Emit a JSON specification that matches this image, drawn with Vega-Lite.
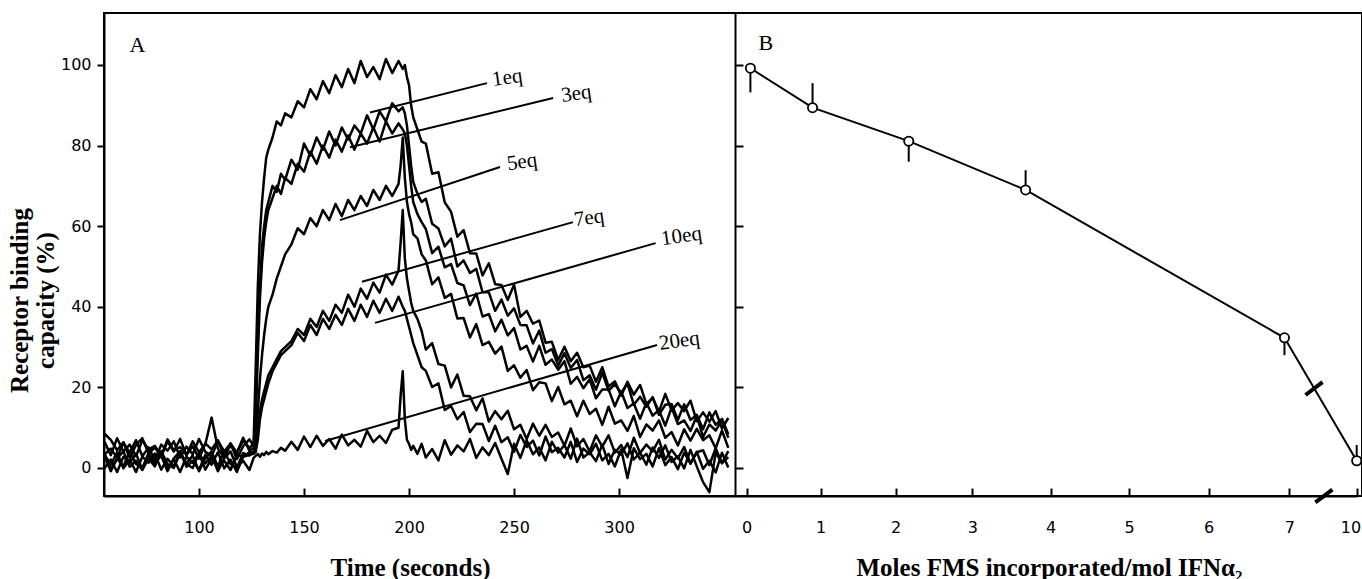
{
"$schema":"https://vega.github.io/schema/vega-lite/v6.json",
"width":1258,"height":483,
"autosize":"none",
"padding":{"left":104,"top":13,"right":0,"bottom":83},
"background":"white",
"config":{
 "view":{"stroke":"black","strokeWidth":2},
 "axis":{"grid":false,"domainColor":"black","domainWidth":2,"tickColor":"black","tickWidth":2,"labelColor":"black","titleColor":"black","labelFont":"DejaVu Sans","labelFontSize":16,"titleFont":"Liberation Serif","titleFontSize":25,"titleFontWeight":"bold"}
},
"datasets":{
"cur":[
{"s":"n","t":55,"v":6.5},{"s":"n","t":58,"v":3.2},{"s":"n","t":61,"v":7.4},{"s":"n","t":64,"v":4.1},{"s":"n","t":67,"v":5.8},{"s":"n","t":70,"v":2.9},{"s":"n","t":73,"v":6.9},{"s":"n","t":76,"v":4.6},{"s":"n","t":79,"v":5.5},{"s":"n","t":82,"v":3.0},{"s":"n","t":85,"v":7.1},{"s":"n","t":88,"v":4.4},{"s":"n","t":91,"v":5.2},{"s":"n","t":94,"v":3.3},{"s":"n","t":97,"v":6.6},{"s":"n","t":100,"v":3.9},{"s":"n","t":103,"v":5.9},{"s":"n","t":106,"v":12.5},{"s":"n","t":109,"v":4.8},{"s":"n","t":112,"v":2.6},{"s":"n","t":115,"v":6.1},{"s":"n","t":118,"v":3.8},{"s":"n","t":121,"v":6.8},{"s":"n","t":124,"v":5.0},
{"s":"n","t":126,"v":6},{"s":"n","t":127,"v":25},{"s":"n","t":128,"v":45},{"s":"n","t":129,"v":58},{"s":"n","t":130,"v":66},{"s":"n","t":131,"v":72},{"s":"n","t":132,"v":77},{"s":"n","t":133,"v":79},{"s":"n","t":135,"v":82},{"s":"n","t":137,"v":86},{"s":"n","t":139,"v":85},{"s":"n","t":141,"v":88},
{"s":"n","t":144,"v":87},{"s":"n","t":147,"v":91},{"s":"n","t":150,"v":89.5},{"s":"n","t":153,"v":94},{"s":"n","t":156,"v":91.5},{"s":"n","t":159,"v":96},{"s":"n","t":162,"v":93},{"s":"n","t":165,"v":97.5},{"s":"n","t":168,"v":94.5},{"s":"n","t":171,"v":99},{"s":"n","t":174,"v":95.5},{"s":"n","t":177,"v":101},{"s":"n","t":180,"v":97},{"s":"n","t":183,"v":99.5},{"s":"n","t":186,"v":96.5},{"s":"n","t":189,"v":101.5},{"s":"n","t":192,"v":98},{"s":"n","t":195,"v":101},
{"s":"n","t":197,"v":99},{"s":"n","t":198,"v":100},{"s":"n","t":199,"v":97},{"s":"n","t":200,"v":95},{"s":"n","t":201,"v":90},{"s":"n","t":202,"v":87},{"s":"n","t":204,"v":84},{"s":"n","t":206,"v":81},
{"s":"n","t":208,"v":80.5},{"s":"n","t":211,"v":73.0},{"s":"n","t":214,"v":73.4},{"s":"n","t":217,"v":65.9},{"s":"n","t":220,"v":63.6},{"s":"n","t":223,"v":57.4},{"s":"n","t":226,"v":59.0},{"s":"n","t":229,"v":53.3},{"s":"n","t":232,"v":53.2},{"s":"n","t":235,"v":47.8},{"s":"n","t":238,"v":50.8},{"s":"n","t":241,"v":45.6},{"s":"n","t":244,"v":45.4},{"s":"n","t":247,"v":41.7},{"s":"n","t":250,"v":45.5},{"s":"n","t":253,"v":37.5},{"s":"n","t":256,"v":39.0},{"s":"n","t":259,"v":35.8},{"s":"n","t":262,"v":36.6},{"s":"n","t":265,"v":31.1},{"s":"n","t":268,"v":31.3},{"s":"n","t":271,"v":26.8},{"s":"n","t":274,"v":30.1},{"s":"n","t":277,"v":26.5},{"s":"n","t":280,"v":28.6},{"s":"n","t":283,"v":25.0},{"s":"n","t":286,"v":25.4},{"s":"n","t":289,"v":21.4},{"s":"n","t":292,"v":25.0},{"s":"n","t":295,"v":20.2},{"s":"n","t":298,"v":21.5},{"s":"n","t":301,"v":17.9},{"s":"n","t":304,"v":21.4},{"s":"n","t":307,"v":18.2},{"s":"n","t":310,"v":20.6},{"s":"n","t":313,"v":15.9},{"s":"n","t":316,"v":17.4},{"s":"n","t":319,"v":14.0},{"s":"n","t":322,"v":18.4},{"s":"n","t":325,"v":14.3},{"s":"n","t":328,"v":16.1},{"s":"n","t":331,"v":14.1},{"s":"n","t":334,"v":16.7},{"s":"n","t":337,"v":11.6},{"s":"n","t":340,"v":13.8},{"s":"n","t":343,"v":11.5},{"s":"n","t":346,"v":14.1},{"s":"n","t":349,"v":9.8},{"s":"n","t":352,"v":12.4},

{"s":"e1","t":55,"v":8.5},{"s":"e1","t":58,"v":7.0},{"s":"e1","t":61,"v":4.4},{"s":"e1","t":64,"v":6.4},{"s":"e1","t":67,"v":2.5},{"s":"e1","t":70,"v":5.7},{"s":"e1","t":73,"v":7.4},{"s":"e1","t":76,"v":3.6},{"s":"e1","t":79,"v":5.1},{"s":"e1","t":82,"v":2.8},{"s":"e1","t":85,"v":6.6},{"s":"e1","t":88,"v":4.1},{"s":"e1","t":91,"v":7.2},{"s":"e1","t":94,"v":3.2},{"s":"e1","t":97,"v":5.4},{"s":"e1","t":100,"v":2.3},{"s":"e1","t":103,"v":6.1},{"s":"e1","t":106,"v":4.6},{"s":"e1","t":109,"v":6.9},{"s":"e1","t":112,"v":2.9},{"s":"e1","t":115,"v":5.6},{"s":"e1","t":118,"v":3.7},{"s":"e1","t":121,"v":7.5},{"s":"e1","t":124,"v":4.3},
{"s":"e1","t":126,"v":5},{"s":"e1","t":127,"v":15},{"s":"e1","t":128,"v":32},{"s":"e1","t":129,"v":45},{"s":"e1","t":130,"v":55},{"s":"e1","t":131,"v":60},{"s":"e1","t":132,"v":64},{"s":"e1","t":133,"v":66},{"s":"e1","t":135,"v":70},{"s":"e1","t":137,"v":68.5},{"s":"e1","t":139,"v":73},{"s":"e1","t":141,"v":71.5},
{"s":"e1","t":144,"v":76.5},{"s":"e1","t":147,"v":74},{"s":"e1","t":150,"v":80.5},{"s":"e1","t":153,"v":77.5},{"s":"e1","t":156,"v":82},{"s":"e1","t":159,"v":79},{"s":"e1","t":162,"v":83.5},{"s":"e1","t":165,"v":80},{"s":"e1","t":168,"v":84.5},{"s":"e1","t":171,"v":81.5},{"s":"e1","t":174,"v":85},{"s":"e1","t":177,"v":83},{"s":"e1","t":180,"v":87.5},{"s":"e1","t":183,"v":84},{"s":"e1","t":186,"v":88.5},{"s":"e1","t":189,"v":86},{"s":"e1","t":192,"v":90.5},{"s":"e1","t":195,"v":88.5},
{"s":"e1","t":197,"v":89.5},{"s":"e1","t":198,"v":88},{"s":"e1","t":199,"v":85},{"s":"e1","t":200,"v":80},{"s":"e1","t":201,"v":75},{"s":"e1","t":202,"v":71},{"s":"e1","t":204,"v":68},{"s":"e1","t":206,"v":66},
{"s":"e1","t":208,"v":66.8},{"s":"e1","t":211,"v":60.6},{"s":"e1","t":214,"v":59.4},{"s":"e1","t":217,"v":55.0},{"s":"e1","t":220,"v":56.9},{"s":"e1","t":223,"v":50.0},{"s":"e1","t":226,"v":51.5},{"s":"e1","t":229,"v":48.4},{"s":"e1","t":232,"v":49.4},{"s":"e1","t":235,"v":43.6},{"s":"e1","t":238,"v":43.6},{"s":"e1","t":241,"v":39.0},{"s":"e1","t":244,"v":41.8},{"s":"e1","t":247,"v":37.8},{"s":"e1","t":250,"v":39.6},{"s":"e1","t":253,"v":35.5},{"s":"e1","t":256,"v":35.4},{"s":"e1","t":259,"v":30.9},{"s":"e1","t":262,"v":34.1},{"s":"e1","t":265,"v":28.6},{"s":"e1","t":268,"v":29.5},{"s":"e1","t":271,"v":25.4},{"s":"e1","t":274,"v":28.5},{"s":"e1","t":277,"v":24.8},{"s":"e1","t":280,"v":26.8},{"s":"e1","t":283,"v":21.8},{"s":"e1","t":286,"v":23.0},{"s":"e1","t":289,"v":19.4},{"s":"e1","t":292,"v":23.6},{"s":"e1","t":295,"v":19.2},{"s":"e1","t":298,"v":20.8},{"s":"e1","t":301,"v":18.6},{"s":"e1","t":304,"v":21.0},{"s":"e1","t":307,"v":15.7},{"s":"e1","t":310,"v":17.7},{"s":"e1","t":313,"v":15.2},{"s":"e1","t":316,"v":17.6},{"s":"e1","t":319,"v":13.2},{"s":"e1","t":322,"v":15.7},{"s":"e1","t":325,"v":15.9},{"s":"e1","t":328,"v":11.9},{"s":"e1","t":331,"v":15.8},{"s":"e1","t":334,"v":11.9},{"s":"e1","t":337,"v":13.2},{"s":"e1","t":340,"v":9.6},{"s":"e1","t":343,"v":13.8},{"s":"e1","t":346,"v":10.7},{"s":"e1","t":349,"v":12.2},{"s":"e1","t":352,"v":8.4},

{"s":"e3","t":55,"v":3.3},{"s":"e3","t":58,"v":4.8},{"s":"e3","t":61,"v":2.5},{"s":"e3","t":64,"v":6.3},{"s":"e3","t":67,"v":3.8},{"s":"e3","t":70,"v":6.9},{"s":"e3","t":73,"v":2.9},{"s":"e3","t":76,"v":5.1},{"s":"e3","t":79,"v":2.0},{"s":"e3","t":82,"v":5.8},{"s":"e3","t":85,"v":4.3},{"s":"e3","t":88,"v":6.6},{"s":"e3","t":91,"v":2.6},{"s":"e3","t":94,"v":5.3},{"s":"e3","t":97,"v":3.4},{"s":"e3","t":100,"v":7.2},{"s":"e3","t":103,"v":4.0},{"s":"e3","t":106,"v":3.0},{"s":"e3","t":109,"v":6.7},{"s":"e3","t":112,"v":4.1},{"s":"e3","t":115,"v":6.1},{"s":"e3","t":118,"v":2.2},{"s":"e3","t":121,"v":5.4},{"s":"e3","t":124,"v":7.1},
{"s":"e3","t":126,"v":5.5},{"s":"e3","t":127,"v":12},{"s":"e3","t":128,"v":28},{"s":"e3","t":129,"v":42},{"s":"e3","t":130,"v":51},{"s":"e3","t":131,"v":57},{"s":"e3","t":132,"v":61},{"s":"e3","t":133,"v":64},{"s":"e3","t":135,"v":67},{"s":"e3","t":137,"v":70},{"s":"e3","t":139,"v":68},{"s":"e3","t":141,"v":72},
{"s":"e3","t":144,"v":70.5},{"s":"e3","t":147,"v":75.5},{"s":"e3","t":150,"v":73.5},{"s":"e3","t":153,"v":78.5},{"s":"e3","t":156,"v":75.5},{"s":"e3","t":159,"v":80},{"s":"e3","t":162,"v":77},{"s":"e3","t":165,"v":81.5},{"s":"e3","t":168,"v":78.5},{"s":"e3","t":171,"v":82.5},{"s":"e3","t":174,"v":79},{"s":"e3","t":177,"v":83},{"s":"e3","t":180,"v":80.5},{"s":"e3","t":183,"v":84.5},{"s":"e3","t":186,"v":81},{"s":"e3","t":189,"v":86},{"s":"e3","t":192,"v":83},{"s":"e3","t":195,"v":85.5},
{"s":"e3","t":197,"v":84},{"s":"e3","t":198,"v":83},{"s":"e3","t":199,"v":80},{"s":"e3","t":200,"v":75},{"s":"e3","t":201,"v":70},{"s":"e3","t":202,"v":66},{"s":"e3","t":204,"v":63},{"s":"e3","t":206,"v":61},
{"s":"e3","t":208,"v":59.3},{"s":"e3","t":211,"v":53.3},{"s":"e3","t":214,"v":54.9},{"s":"e3","t":217,"v":49.8},{"s":"e3","t":220,"v":50.6},{"s":"e3","t":223,"v":45.9},{"s":"e3","t":226,"v":45.3},{"s":"e3","t":229,"v":40.4},{"s":"e3","t":232,"v":43.3},{"s":"e3","t":235,"v":37.6},{"s":"e3","t":238,"v":38.2},{"s":"e3","t":241,"v":33.9},{"s":"e3","t":244,"v":36.8},{"s":"e3","t":247,"v":32.9},{"s":"e3","t":250,"v":34.7},{"s":"e3","t":253,"v":29.4},{"s":"e3","t":256,"v":30.3},{"s":"e3","t":259,"v":26.4},{"s":"e3","t":262,"v":30.3},{"s":"e3","t":265,"v":25.6},{"s":"e3","t":268,"v":26.9},{"s":"e3","t":271,"v":24.4},{"s":"e3","t":274,"v":26.5},{"s":"e3","t":277,"v":20.9},{"s":"e3","t":280,"v":22.6},{"s":"e3","t":283,"v":19.8},{"s":"e3","t":286,"v":22.0},{"s":"e3","t":289,"v":17.3},{"s":"e3","t":292,"v":19.5},{"s":"e3","t":295,"v":19.5},{"s":"e3","t":298,"v":15.3},{"s":"e3","t":301,"v":19.0},{"s":"e3","t":304,"v":14.9},{"s":"e3","t":307,"v":16.0},{"s":"e3","t":310,"v":12.2},{"s":"e3","t":313,"v":16.2},{"s":"e3","t":316,"v":13.0},{"s":"e3","t":319,"v":14.4},{"s":"e3","t":322,"v":10.5},{"s":"e3","t":325,"v":15.0},{"s":"e3","t":328,"v":10.9},{"s":"e3","t":331,"v":11.8},{"s":"e3","t":334,"v":9.2},{"s":"e3","t":337,"v":12.9},{"s":"e3","t":340,"v":7.7},{"s":"e3","t":343,"v":10.8},{"s":"e3","t":346,"v":9.3},{"s":"e3","t":349,"v":11.8},{"s":"e3","t":352,"v":7.5},

{"s":"e5","t":55,"v":-0.1},{"s":"e5","t":58,"v":2.1},{"s":"e5","t":61,"v":-1.0},{"s":"e5","t":64,"v":2.8},{"s":"e5","t":67,"v":1.3},{"s":"e5","t":70,"v":3.6},{"s":"e5","t":73,"v":-0.4},{"s":"e5","t":76,"v":2.3},{"s":"e5","t":79,"v":0.4},{"s":"e5","t":82,"v":4.2},{"s":"e5","t":85,"v":1.0},{"s":"e5","t":88,"v":0.0},{"s":"e5","t":91,"v":3.7},{"s":"e5","t":94,"v":1.1},{"s":"e5","t":97,"v":3.1},{"s":"e5","t":100,"v":-0.8},{"s":"e5","t":103,"v":2.4},{"s":"e5","t":106,"v":4.1},{"s":"e5","t":109,"v":0.3},{"s":"e5","t":112,"v":1.8},{"s":"e5","t":115,"v":-0.5},{"s":"e5","t":118,"v":3.3},{"s":"e5","t":121,"v":2.8},{"s":"e5","t":124,"v":3.9},
{"s":"e5","t":126,"v":4},{"s":"e5","t":127,"v":6},{"s":"e5","t":128,"v":14},{"s":"e5","t":129,"v":22},{"s":"e5","t":130,"v":28},{"s":"e5","t":131,"v":33},{"s":"e5","t":132,"v":37},{"s":"e5","t":133,"v":40},{"s":"e5","t":135,"v":43},{"s":"e5","t":137,"v":47},{"s":"e5","t":139,"v":50},{"s":"e5","t":141,"v":53},
{"s":"e5","t":144,"v":55.5},{"s":"e5","t":147,"v":59.5},{"s":"e5","t":150,"v":58},{"s":"e5","t":153,"v":62},{"s":"e5","t":156,"v":60},{"s":"e5","t":159,"v":64},{"s":"e5","t":162,"v":61.5},{"s":"e5","t":165,"v":65.5},{"s":"e5","t":168,"v":62.5},{"s":"e5","t":171,"v":66.5},{"s":"e5","t":174,"v":64},{"s":"e5","t":177,"v":67.5},{"s":"e5","t":180,"v":65},{"s":"e5","t":183,"v":69},{"s":"e5","t":186,"v":66.5},{"s":"e5","t":189,"v":70},{"s":"e5","t":192,"v":67.5},{"s":"e5","t":195,"v":70.5},
{"s":"e5","t":196,"v":75},{"s":"e5","t":197,"v":82},{"s":"e5","t":198,"v":72},{"s":"e5","t":199,"v":66},{"s":"e5","t":200,"v":63},{"s":"e5","t":201,"v":61},{"s":"e5","t":202,"v":58},{"s":"e5","t":204,"v":57},{"s":"e5","t":206,"v":53},
{"s":"e5","t":208,"v":51.5},{"s":"e5","t":211,"v":45.6},{"s":"e5","t":214,"v":47.3},{"s":"e5","t":217,"v":42.2},{"s":"e5","t":220,"v":43.2},{"s":"e5","t":223,"v":37.1},{"s":"e5","t":226,"v":37.2},{"s":"e5","t":229,"v":32.4},{"s":"e5","t":232,"v":35.7},{"s":"e5","t":235,"v":30.5},{"s":"e5","t":238,"v":31.3},{"s":"e5","t":241,"v":28.4},{"s":"e5","t":244,"v":30.1},{"s":"e5","t":247,"v":24.1},{"s":"e5","t":250,"v":25.5},{"s":"e5","t":253,"v":22.4},{"s":"e5","t":256,"v":24.3},{"s":"e5","t":259,"v":19.3},{"s":"e5","t":262,"v":21.3},{"s":"e5","t":265,"v":21.0},{"s":"e5","t":268,"v":16.6},{"s":"e5","t":271,"v":20.1},{"s":"e5","t":274,"v":15.8},{"s":"e5","t":277,"v":16.7},{"s":"e5","t":280,"v":12.8},{"s":"e5","t":283,"v":16.7},{"s":"e5","t":286,"v":13.4},{"s":"e5","t":289,"v":14.7},{"s":"e5","t":292,"v":10.7},{"s":"e5","t":295,"v":15.2},{"s":"e5","t":298,"v":11.0},{"s":"e5","t":301,"v":11.8},{"s":"e5","t":304,"v":9.2},{"s":"e5","t":307,"v":12.9},{"s":"e5","t":310,"v":7.7},{"s":"e5","t":313,"v":10.8},{"s":"e5","t":316,"v":9.3},{"s":"e5","t":319,"v":11.8},{"s":"e5","t":322,"v":7.5},{"s":"e5","t":325,"v":8.9},{"s":"e5","t":328,"v":5.6},{"s":"e5","t":331,"v":9.6},{"s":"e5","t":334,"v":6.8},{"s":"e5","t":337,"v":9.7},{"s":"e5","t":340,"v":6.9},{"s":"e5","t":343,"v":8.1},{"s":"e5","t":346,"v":4.9},{"s":"e5","t":349,"v":9.3},{"s":"e5","t":352,"v":5.0},

{"s":"e7","t":55,"v":3.1},{"s":"e7","t":58,"v":-0.8},{"s":"e7","t":61,"v":2.4},{"s":"e7","t":64,"v":4.1},{"s":"e7","t":67,"v":0.3},{"s":"e7","t":70,"v":1.8},{"s":"e7","t":73,"v":-0.5},{"s":"e7","t":76,"v":3.3},{"s":"e7","t":79,"v":0.8},{"s":"e7","t":82,"v":3.9},{"s":"e7","t":85,"v":-0.1},{"s":"e7","t":88,"v":2.1},{"s":"e7","t":91,"v":-1.0},{"s":"e7","t":94,"v":2.8},{"s":"e7","t":97,"v":1.3},{"s":"e7","t":100,"v":3.6},{"s":"e7","t":103,"v":-0.4},{"s":"e7","t":106,"v":2.3},{"s":"e7","t":109,"v":0.4},{"s":"e7","t":112,"v":4.2},{"s":"e7","t":115,"v":1.0},{"s":"e7","t":118,"v":0.0},{"s":"e7","t":121,"v":3.7},{"s":"e7","t":124,"v":3.1},
{"s":"e7","t":126,"v":4},{"s":"e7","t":127,"v":5},{"s":"e7","t":128,"v":9},{"s":"e7","t":129,"v":14},{"s":"e7","t":130,"v":17},{"s":"e7","t":131,"v":19},{"s":"e7","t":132,"v":21},{"s":"e7","t":133,"v":23},{"s":"e7","t":135,"v":25},{"s":"e7","t":137,"v":27},{"s":"e7","t":139,"v":29},{"s":"e7","t":141,"v":30},
{"s":"e7","t":144,"v":31.5},{"s":"e7","t":147,"v":34.5},{"s":"e7","t":150,"v":33},{"s":"e7","t":153,"v":37},{"s":"e7","t":156,"v":35},{"s":"e7","t":159,"v":39},{"s":"e7","t":162,"v":36.5},{"s":"e7","t":165,"v":40.5},{"s":"e7","t":168,"v":38.5},{"s":"e7","t":171,"v":43},{"s":"e7","t":174,"v":40},{"s":"e7","t":177,"v":44.5},{"s":"e7","t":180,"v":42},{"s":"e7","t":183,"v":46},{"s":"e7","t":186,"v":43.5},{"s":"e7","t":189,"v":48},{"s":"e7","t":192,"v":45.5},{"s":"e7","t":195,"v":49},
{"s":"e7","t":196,"v":56},{"s":"e7","t":197,"v":64},{"s":"e7","t":198,"v":52},{"s":"e7","t":199,"v":47},{"s":"e7","t":200,"v":44},{"s":"e7","t":201,"v":41},{"s":"e7","t":202,"v":39},{"s":"e7","t":204,"v":37},{"s":"e7","t":206,"v":34},
{"s":"e7","t":208,"v":29.4},{"s":"e7","t":211,"v":31.0},{"s":"e7","t":214,"v":25.8},{"s":"e7","t":217,"v":25.4},{"s":"e7","t":220,"v":20.0},{"s":"e7","t":223,"v":23.2},{"s":"e7","t":226,"v":17.9},{"s":"e7","t":229,"v":17.8},{"s":"e7","t":232,"v":14.3},{"s":"e7","t":235,"v":17.3},{"s":"e7","t":238,"v":11.5},{"s":"e7","t":241,"v":14.1},{"s":"e7","t":244,"v":12.1},{"s":"e7","t":247,"v":14.2},{"s":"e7","t":250,"v":9.6},{"s":"e7","t":253,"v":10.7},{"s":"e7","t":256,"v":7.2},{"s":"e7","t":259,"v":11.0},{"s":"e7","t":262,"v":8.0},{"s":"e7","t":265,"v":10.7},{"s":"e7","t":268,"v":7.7},{"s":"e7","t":271,"v":8.8},{"s":"e7","t":274,"v":5.5},{"s":"e7","t":277,"v":9.8},{"s":"e7","t":280,"v":5.4},{"s":"e7","t":283,"v":7.2},{"s":"e7","t":286,"v":4.1},{"s":"e7","t":289,"v":8.1},{"s":"e7","t":292,"v":5.3},{"s":"e7","t":295,"v":8.1},{"s":"e7","t":298,"v":3.8},{"s":"e7","t":301,"v":5.7},{"s":"e7","t":304,"v":2.7},{"s":"e7","t":307,"v":7.5},{"s":"e7","t":310,"v":3.7},{"s":"e7","t":313,"v":5.8},{"s":"e7","t":316,"v":4.1},{"s":"e7","t":319,"v":7.0},{"s":"e7","t":322,"v":2.1},{"s":"e7","t":325,"v":4.5},{"s":"e7","t":328,"v":2.4},{"s":"e7","t":331,"v":5.2},{"s":"e7","t":334,"v":1.1},{"s":"e7","t":337,"v":3.9},{"s":"e7","t":340,"v":4.4},{"s":"e7","t":343,"v":0.7},{"s":"e7","t":346,"v":4.9},{"s":"e7","t":349,"v":1.2},{"s":"e7","t":352,"v":2.7},

{"s":"e10","t":55,"v":3.6},{"s":"e10","t":58,"v":-0.4},{"s":"e10","t":61,"v":2.3},{"s":"e10","t":64,"v":0.4},{"s":"e10","t":67,"v":4.2},{"s":"e10","t":70,"v":1.0},{"s":"e10","t":73,"v":0.0},{"s":"e10","t":76,"v":3.7},{"s":"e10","t":79,"v":1.1},{"s":"e10","t":82,"v":3.1},{"s":"e10","t":85,"v":-0.8},{"s":"e10","t":88,"v":2.4},{"s":"e10","t":91,"v":4.1},{"s":"e10","t":94,"v":0.3},{"s":"e10","t":97,"v":1.8},{"s":"e10","t":100,"v":-0.5},{"s":"e10","t":103,"v":3.3},{"s":"e10","t":106,"v":0.8},{"s":"e10","t":109,"v":3.9},{"s":"e10","t":112,"v":-0.1},{"s":"e10","t":115,"v":2.1},{"s":"e10","t":118,"v":-1.0},{"s":"e10","t":121,"v":2.8},{"s":"e10","t":124,"v":3.3},
{"s":"e10","t":126,"v":3.5},{"s":"e10","t":127,"v":4},{"s":"e10","t":128,"v":7},{"s":"e10","t":129,"v":12},{"s":"e10","t":130,"v":15},{"s":"e10","t":131,"v":17},{"s":"e10","t":132,"v":19},{"s":"e10","t":133,"v":21},{"s":"e10","t":135,"v":24},{"s":"e10","t":137,"v":26},{"s":"e10","t":139,"v":28},{"s":"e10","t":141,"v":29},
{"s":"e10","t":144,"v":30.5},{"s":"e10","t":147,"v":33.5},{"s":"e10","t":150,"v":31.5},{"s":"e10","t":153,"v":35.5},{"s":"e10","t":156,"v":33},{"s":"e10","t":159,"v":37},{"s":"e10","t":162,"v":34.5},{"s":"e10","t":165,"v":38},{"s":"e10","t":168,"v":35.5},{"s":"e10","t":171,"v":39.5},{"s":"e10","t":174,"v":36.5},{"s":"e10","t":177,"v":40.5},{"s":"e10","t":180,"v":37.5},{"s":"e10","t":183,"v":41.5},{"s":"e10","t":186,"v":38.5},{"s":"e10","t":189,"v":42},{"s":"e10","t":192,"v":39},{"s":"e10","t":195,"v":42.5},
{"s":"e10","t":197,"v":40},{"s":"e10","t":198,"v":39},{"s":"e10","t":199,"v":37},{"s":"e10","t":200,"v":35},{"s":"e10","t":201,"v":33},{"s":"e10","t":202,"v":31},{"s":"e10","t":204,"v":28},{"s":"e10","t":206,"v":25},
{"s":"e10","t":208,"v":24.1},{"s":"e10","t":211,"v":20.1},{"s":"e10","t":214,"v":21.0},{"s":"e10","t":217,"v":14.4},{"s":"e10","t":220,"v":15.4},{"s":"e10","t":223,"v":12.1},{"s":"e10","t":226,"v":13.9},{"s":"e10","t":229,"v":8.9},{"s":"e10","t":232,"v":11.0},{"s":"e10","t":235,"v":10.9},{"s":"e10","t":238,"v":6.7},{"s":"e10","t":241,"v":10.5},{"s":"e10","t":244,"v":6.4},{"s":"e10","t":247,"v":7.6},{"s":"e10","t":250,"v":4.0},{"s":"e10","t":253,"v":8.2},{"s":"e10","t":256,"v":5.2},{"s":"e10","t":259,"v":6.8},{"s":"e10","t":262,"v":3.1},{"s":"e10","t":265,"v":7.8},{"s":"e10","t":268,"v":3.9},{"s":"e10","t":271,"v":5.0},{"s":"e10","t":274,"v":2.6},{"s":"e10","t":277,"v":6.5},{"s":"e10","t":280,"v":1.5},{"s":"e10","t":283,"v":4.8},{"s":"e10","t":286,"v":3.4},{"s":"e10","t":289,"v":6.0},{"s":"e10","t":292,"v":1.9},{"s":"e10","t":295,"v":3.5},{"s":"e10","t":298,"v":0.4},{"s":"e10","t":301,"v":4.6},{"s":"e10","t":304,"v":-2.5},{"s":"e10","t":307,"v":4.9},{"s":"e10","t":310,"v":2.2},{"s":"e10","t":313,"v":3.5},{"s":"e10","t":316,"v":0.4},{"s":"e10","t":319,"v":4.9},{"s":"e10","t":322,"v":0.7},{"s":"e10","t":325,"v":2.7},{"s":"e10","t":328,"v":-0.3},{"s":"e10","t":331,"v":3.8},{"s":"e10","t":334,"v":1.1},{"s":"e10","t":337,"v":4.0},{"s":"e10","t":340,"v":-0.2},{"s":"e10","t":343,"v":1.8},{"s":"e10","t":346,"v":-1.1},{"s":"e10","t":349,"v":3.8},{"s":"e10","t":352,"v":0.1},

{"s":"e20","t":55,"v":3.3},{"s":"e20","t":58,"v":0.8},{"s":"e20","t":61,"v":3.9},{"s":"e20","t":64,"v":-0.1},{"s":"e20","t":67,"v":2.1},{"s":"e20","t":70,"v":-1.0},{"s":"e20","t":73,"v":2.8},{"s":"e20","t":76,"v":1.3},{"s":"e20","t":79,"v":3.6},{"s":"e20","t":82,"v":-0.4},{"s":"e20","t":85,"v":2.3},{"s":"e20","t":88,"v":0.4},{"s":"e20","t":91,"v":4.2},{"s":"e20","t":94,"v":1.0},{"s":"e20","t":97,"v":0.0},{"s":"e20","t":100,"v":3.7},{"s":"e20","t":103,"v":1.1},{"s":"e20","t":106,"v":3.1},{"s":"e20","t":109,"v":-0.8},{"s":"e20","t":112,"v":2.4},{"s":"e20","t":115,"v":4.1},{"s":"e20","t":118,"v":0.3},{"s":"e20","t":121,"v":1.8},{"s":"e20","t":124,"v":-0.5},
{"s":"e20","t":126,"v":2.5},{"s":"e20","t":127,"v":3.0},{"s":"e20","t":128,"v":3.5},{"s":"e20","t":129,"v":2.8},{"s":"e20","t":130,"v":3.6},{"s":"e20","t":131,"v":3.2},{"s":"e20","t":132,"v":4.0},{"s":"e20","t":133,"v":3.4},{"s":"e20","t":135,"v":4.2},{"s":"e20","t":137,"v":3.8},{"s":"e20","t":139,"v":5.0},{"s":"e20","t":141,"v":4.3},
{"s":"e20","t":144,"v":6.5},{"s":"e20","t":147,"v":4.5},{"s":"e20","t":150,"v":7.8},{"s":"e20","t":153,"v":5.2},{"s":"e20","t":156,"v":8.0},{"s":"e20","t":159,"v":5.5},{"s":"e20","t":162,"v":7.2},{"s":"e20","t":165,"v":4.8},{"s":"e20","t":168,"v":8.3},{"s":"e20","t":171,"v":5.6},{"s":"e20","t":174,"v":7.0},{"s":"e20","t":177,"v":5.3},{"s":"e20","t":180,"v":9.2},{"s":"e20","t":183,"v":6.4},{"s":"e20","t":186,"v":8.0},{"s":"e20","t":189,"v":6.2},{"s":"e20","t":192,"v":9.5},{"s":"e20","t":195,"v":10},
{"s":"e20","t":196,"v":18},{"s":"e20","t":197,"v":24},{"s":"e20","t":198,"v":12},{"s":"e20","t":199,"v":7},{"s":"e20","t":200,"v":6},{"s":"e20","t":201,"v":4.5},{"s":"e20","t":202,"v":5.5},{"s":"e20","t":204,"v":3.5},{"s":"e20","t":206,"v":6},
{"s":"e20","t":208,"v":2.6},{"s":"e20","t":211,"v":4.7},{"s":"e20","t":214,"v":1.9},{"s":"e20","t":217,"v":6.9},{"s":"e20","t":220,"v":3.3},{"s":"e20","t":223,"v":5.6},{"s":"e20","t":226,"v":4.1},{"s":"e20","t":229,"v":7.2},{"s":"e20","t":232,"v":2.5},{"s":"e20","t":235,"v":5.1},{"s":"e20","t":238,"v":3.2},{"s":"e20","t":241,"v":6.2},{"s":"e20","t":244,"v":2.3},{"s":"e20","t":247,"v":-1.5},{"s":"e20","t":250,"v":6.0},{"s":"e20","t":253,"v":2.5},{"s":"e20","t":256,"v":6.9},{"s":"e20","t":259,"v":3.4},{"s":"e20","t":262,"v":5.1},{"s":"e20","t":265,"v":1.9},{"s":"e20","t":268,"v":6.5},{"s":"e20","t":271,"v":3.8},{"s":"e20","t":274,"v":5.7},{"s":"e20","t":277,"v":2.3},{"s":"e20","t":280,"v":7.3},{"s":"e20","t":283,"v":2.6},{"s":"e20","t":286,"v":3.9},{"s":"e20","t":289,"v":1.7},{"s":"e20","t":292,"v":5.8},{"s":"e20","t":295,"v":1.0},{"s":"e20","t":298,"v":4.5},{"s":"e20","t":301,"v":3.3},{"s":"e20","t":304,"v":6.1},{"s":"e20","t":307,"v":2.1},{"s":"e20","t":310,"v":3.8},{"s":"e20","t":313,"v":0.8},{"s":"e20","t":316,"v":5.1},{"s":"e20","t":319,"v":2.5},{"s":"e20","t":322,"v":5.6},{"s":"e20","t":325,"v":1.5},{"s":"e20","t":328,"v":2.9},{"s":"e20","t":331,"v":-0.1},{"s":"e20","t":334,"v":4.5},{"s":"e20","t":337,"v":0.4},{"s":"e20","t":340,"v":-3.5},{"s":"e20","t":343,"v":-6.0},{"s":"e20","t":346,"v":3.8},{"s":"e20","t":349,"v":1.2},{"s":"e20","t":352,"v":4.2}
],
"lead":[
{"t":181.4,"v":88.2,"t2":237.1,"v2":95.5},
{"t":171.9,"v":79.6,"t2":268.6,"v2":91.8},
{"t":167.1,"v":61.5,"t2":243.3,"v2":74.7},
{"t":177.6,"v":46.2,"t2":278.1,"v2":61.0},
{"t":183.8,"v":36.0,"t2":317.4,"v2":55.8},
{"t":160.0,"v":6.7,"t2":318.1,"v2":30.5}
],
"lab":[
{"t":240.0,"v":94.8,"txt":"1eq"},
{"t":272.9,"v":90.8,"txt":"3eq"},
{"t":247.1,"v":73.9,"txt":"5eq"},
{"t":279.0,"v":60.0,"txt":"7eq"},
{"t":320.5,"v":55.3,"txt":"10eq"},
{"t":319.5,"v":29.3,"txt":"20eq"}
],
"pa":[{"t":70.7,"v":103.2,"txt":"A"}],
"pb":[
{"m":0.05,"r":99.2,"e":93.2},
{"m":0.89,"r":89.4,"e":95.5},
{"m":2.17,"r":81.1,"e":76.0},
{"m":3.68,"r":69.0,"e":73.9},
{"m":6.94,"r":32.3,"e":28.0},
{"m":10,"r":1.8,"e":5.7}
],
"brk":[{"m":8.1,"r":19.7},{"m":8.54,"r":-6.95}],
"pbl":[{"m":0.26,"r":103.7,"txt":"B"}]
},
"layer":[
{"layer":[
 {"data":{"name":"cur"},
  "mark":{"type":"line","color":"black","strokeWidth":2.5,"strokeJoin":"round"},
  "encoding":{
   "x":{"field":"t","type":"quantitative","scale":{"domain":[54.76,355.2],"range":[0,631],"nice":false,"zero":false},
        "axis":{"orient":"bottom","title":"Time (seconds)","values":[100,150,200,250,300],"tickSize":-8,"labelPadding":31,"labelFlush":false,"titleX":306,"titleY":79,"titleBaseline":"alphabetic"}},
   "y":{"field":"v","type":"quantitative","scale":{"domain":[-6.95,112.9],"nice":false,"zero":false},
        "axis":{"orient":"left","title":["Receptor binding","capacity (%)"],"values":[0,20,40,60,80,100],"tickSize":7,"labelPadding":6,"titleX":-72,"titleY":287,"titleLineHeight":26}},
   "detail":{"field":"s"}
  }},
 {"data":{"name":"lead"},
  "mark":{"type":"rule","color":"black","strokeWidth":2},
  "encoding":{"x":{"field":"t","type":"quantitative"},"y":{"field":"v","type":"quantitative"},"x2":{"field":"t2"},"y2":{"field":"v2"}}},
 {"data":{"name":"lab"},
  "mark":{"type":"text","align":"left","baseline":"alphabetic","font":"Liberation Serif","fontSize":21,"angle":352,"color":"black"},
  "encoding":{"x":{"field":"t","type":"quantitative"},"y":{"field":"v","type":"quantitative"},"text":{"field":"txt"}}},
 {"data":{"name":"pa"},
  "mark":{"type":"text","align":"center","baseline":"alphabetic","font":"Liberation Serif","fontSize":22,"color":"black"},
  "encoding":{"x":{"field":"t","type":"quantitative"},"y":{"field":"v","type":"quantitative"},"text":{"field":"txt"}}}
]},
{"layer":[
 {"data":{"name":"pb"},
  "mark":{"type":"rule","color":"black","strokeWidth":2},
  "encoding":{
   "x":{"field":"m","type":"quantitative","scale":{"domain":[-0.158,0,1,2,3,4,5,6,7,10],"range":[631,642.7,716.7,791.7,868.3,946.7,1025,1104.7,1185.3,1252.7],"nice":false,"zero":false},
        "axis":{"orient":"bottom","title":"Moles FMS incorporated/mol IFNα₂","values":[0,1,2,3,4,5,6,7,10],"format":"d","tickSize":-8,"labelPadding":31,"labelFlush":true,"labelFlushOffset":4,"titleX":945,"titleY":79,"titleBaseline":"alphabetic"}},
   "y":{"field":"r","type":"quantitative","scale":{"domain":[-6.95,112.9],"nice":false,"zero":false},
        "axis":{"orient":"right","offset":-627,"labels":false,"title":null,"values":[0,20,40,60,80,100],"tickSize":8}},
   "y2":{"field":"e"}
  }},
 {"data":{"name":"pb"},
  "mark":{"type":"line","color":"black","strokeWidth":2},
  "encoding":{"x":{"field":"m","type":"quantitative"},"y":{"field":"r","type":"quantitative"}}},
 {"data":{"name":"pb"},
  "mark":{"type":"point","shape":"circle","filled":true,"fill":"white","stroke":"black","strokeWidth":1.8,"size":85,"opacity":1},
  "encoding":{"x":{"field":"m","type":"quantitative"},"y":{"field":"r","type":"quantitative"}}},
 {"data":{"name":"brk"},
  "mark":{"type":"point","shape":"M-1,0.75L1,-0.75","filled":false,"stroke":"black","strokeWidth":4,"size":290,"opacity":1,"strokeCap":"butt"},
  "encoding":{"x":{"field":"m","type":"quantitative"},"y":{"field":"r","type":"quantitative"}}},
 {"data":{"name":"pbl"},
  "mark":{"type":"text","align":"center","baseline":"alphabetic","font":"Liberation Serif","fontSize":22,"color":"black"},
  "encoding":{"x":{"field":"m","type":"quantitative"},"y":{"field":"r","type":"quantitative"},"text":{"field":"txt"}}}
]}
],
"resolve":{"scale":{"x":"independent","y":"independent"},"axis":{"x":"independent","y":"independent"}}
}
